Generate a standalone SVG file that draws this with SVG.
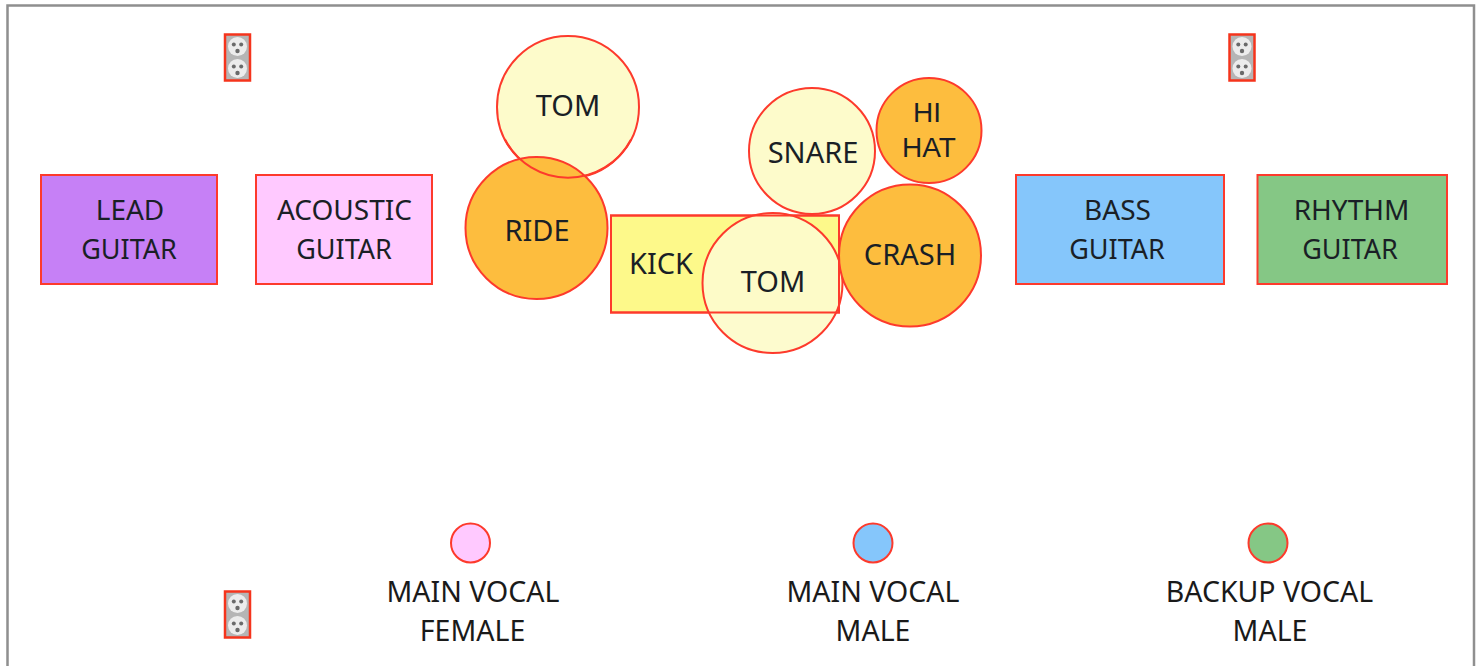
<svg xmlns="http://www.w3.org/2000/svg" width="1481" height="666" viewBox="0 0 1481 666">
<style>
.s{stroke:#fd3a2c;stroke-width:2}
.t{font-family:"Noto Sans","Open Sans",sans-serif;font-size:29px;fill:#1a1f26;text-anchor:middle}
.g{font-size:27px}
.m{font-size:28px}
.hh{font-family:"Liberation Sans",Arial,sans-serif;font-size:28px}
.v{font-family:"Noto Sans","Open Sans",sans-serif;font-size:28.500px;fill:#1a1a1a;text-anchor:middle}
.o{fill:#b5b5b5;stroke:#f5341c;stroke-width:2.500}
.f{fill:#ececec}
.h{fill:#6a6a6a}
</style>
<defs>
<g id="outlet">
<rect class="o" x="0" y="0" width="25" height="46"/>
<circle class="f" cx="12.500" cy="12" r="9.500"/><circle class="h" cx="8.800" cy="10" r="2"/><circle class="h" cx="16.200" cy="10" r="2"/><circle class="h" cx="12.500" cy="16.500" r="2.200"/>
<circle class="f" cx="12.500" cy="34" r="9.500"/><circle class="h" cx="8.800" cy="32" r="2"/><circle class="h" cx="16.200" cy="32" r="2"/><circle class="h" cx="12.500" cy="38.500" r="2.200"/>
</g>
</defs>
<rect width="1481" height="666" fill="#fff"/>
<path id="frame" d="M7.500 666V5.500H1474V666" fill="none" stroke="#8f8f8f" stroke-width="2.500"/>
<g id="outlet-top-left"><use href="#outlet" x="225" y="34.500"/></g>
<g id="outlet-top-right"><use href="#outlet" x="1229.500" y="34.500"/></g>
<g id="outlet-bottom"><use href="#outlet" x="225" y="591.500"/></g>
<g id="lead-guitar"><rect class="s" x="41" y="175" width="176" height="109" fill="#c680f6"/><text class="t m" x="130" y="220">LEAD</text><text class="t g" x="129" y="259">GUITAR</text></g>
<g id="acoustic-guitar"><rect class="s" x="256" y="175" width="176" height="109" fill="#ffc9ff"/><text class="t m" x="344.500" y="220">ACOUSTIC</text><text class="t g" x="344" y="259">GUITAR</text></g>
<g id="tom-top"><circle class="s" cx="568" cy="107" r="71" fill="#fdfbcb"/><text class="t" x="568" y="116">TOM</text></g>
<g id="ride"><circle class="s" cx="536.500" cy="228" r="71" fill="#fdbd3e"/><text class="t" x="537" y="241">RIDE</text></g>
<path id="tom-top-edge" d="M505 139.500A71 71 0 0 0 631 139.500" fill="none" stroke="#fd3a2c" stroke-width="2"/>
<g id="kick"><rect class="s" x="611" y="215.500" width="228" height="97" fill="#fdf98a"/><text class="t" x="661" y="274">KICK</text></g>
<g id="snare"><circle class="s" cx="812" cy="151" r="63" fill="#fdfbcb"/><text class="t" x="813" y="163">SNARE</text></g>
<g id="tom-low"><circle class="s" cx="772.500" cy="283" r="70" fill="#fdfbcb" fill-opacity=".95"/><rect x="611" y="215.500" width="228" height="97" fill="none" stroke="#fd3a2c" stroke-width="2"/><text class="t" x="773" y="292">TOM</text></g>
<g id="hi-hat"><circle class="s" cx="929" cy="130.500" r="52.500" fill="#fdbd3e"/><text class="t hh" x="927" y="122">HI</text><text class="t hh" x="929" y="157">HAT</text></g>
<g id="crash"><circle class="s" cx="910" cy="255.500" r="71" fill="#fdbd3e"/><text class="t" x="910" y="265">CRASH</text></g>
<g id="bass-guitar"><rect class="s" x="1016" y="175" width="208" height="109" fill="#85c6fb"/><text class="t m" x="1117.500" y="220">BASS</text><text class="t g" x="1117" y="259">GUITAR</text></g>
<g id="rhythm-guitar"><rect class="s" x="1257.500" y="175" width="189.500" height="109" fill="#85c785"/><text class="t m" x="1351.500" y="220">RHYTHM</text><text class="t g" x="1350" y="259">GUITAR</text></g>
<g id="main-vocal-female"><circle class="s" cx="470.500" cy="543" r="19.500" fill="#ffc9ff"/><text class="v" x="473" y="602">MAIN VOCAL</text><text class="v" x="472.500" y="641">FEMALE</text></g>
<g id="main-vocal-male"><circle class="s" cx="873" cy="543" r="19.500" fill="#85c6fb"/><text class="v" x="873" y="602">MAIN VOCAL</text><text class="v" x="873" y="641">MALE</text></g>
<g id="backup-vocal-male"><circle class="s" cx="1268" cy="543" r="19.500" fill="#85c785"/><text class="v" x="1269.500" y="602">BACKUP VOCAL</text><text class="v" x="1270" y="641">MALE</text></g>
<g id="connectors"/>
</svg>
